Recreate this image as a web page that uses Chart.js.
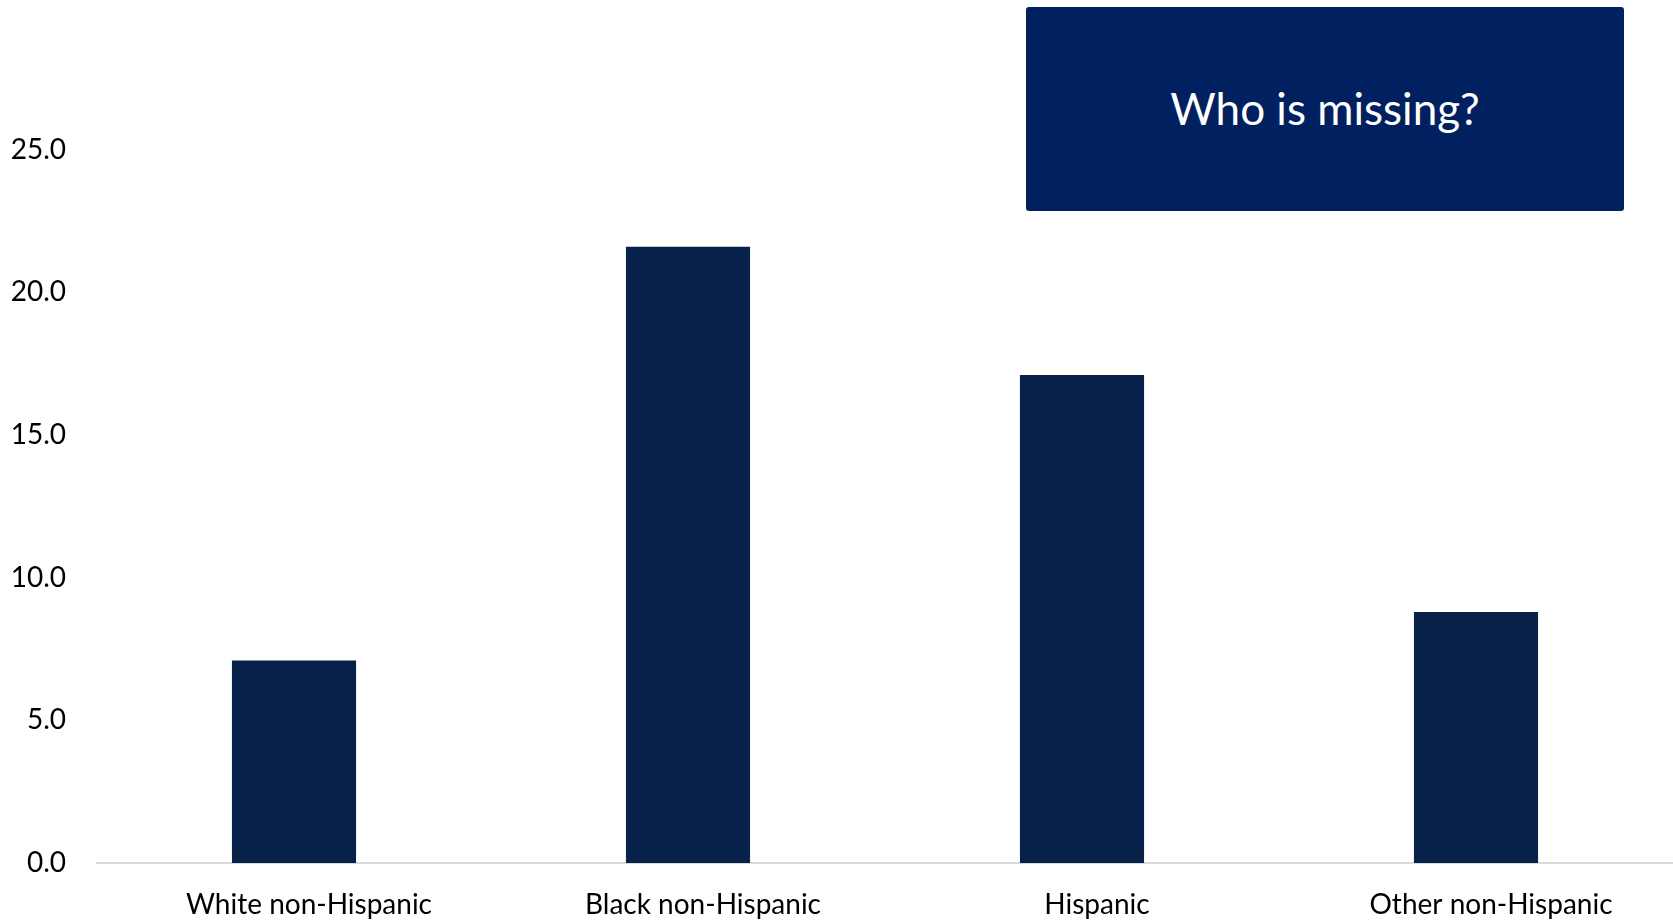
<!DOCTYPE html>
<html>
<head>
<meta charset="utf-8">
<script src="https://cdn.jsdelivr.net/npm/chart.js@4.4.1/dist/chart.umd.min.js"></script>
<style>
  body { margin: 0; background: #fff; }
  #wrap { position: relative; width: 1673px; height: 920px; }
  #box {
    position: absolute; left: 1026px; top: 7px; width: 598px; height: 204px;
    background: #012060; border-radius: 3px;
    color: #fff; font-family: Lato, "Open Sans", sans-serif; font-size: 44px;
    display: flex; align-items: center; justify-content: center;
    padding-bottom: 2px; box-sizing: border-box;
  }
</style>
</head>
<body>
<div id="wrap">
  <canvas id="chart" width="1673" height="920"></canvas>
  <div id="box">Who is missing?</div>
</div>
<script>
// Data
const groups = ['White non-Hispanic', 'Black non-Hispanic', 'Hispanic', 'Other non-Hispanic'];
const rates = [7.1, 21.6, 17.1, 8.8];
const yTicks = [0, 5, 10, 15, 20, 25];

document.addEventListener("DOMContentLoaded", function() {
    const ctx = document.getElementById('chart').getContext('2d');
    new Chart(ctx, {
        type: 'bar',
        data: {
            labels: groups,
            datasets: [{
                data: rates,
                backgroundColor: '#08214A',
                borderWidth: 0,
                categoryPercentage: 1,
                barPercentage: 0.315
            }]
        },
        options: {
            responsive: false,
            animation: false,
            layout: { padding: 0 },
            plugins: { legend: { display: false }, tooltip: { enabled: false } },
            scales: {
                x: {
                    grid: { display: false, drawTicks: false },
                    border: { color: '#d9d9d9', width: 2 },
                    ticks: {
                        color: '#000',
                        font: { family: 'Lato', size: 28 },
                        padding: 25,
                        labelOffset: 15,
                        maxRotation: 0
                    },
                    afterFit: function(scale) { scale.height = 57; }
                },
                y: {
                    min: 0,
                    max: 30,
                    grid: { display: false, drawTicks: false },
                    border: { display: false },
                    afterBuildTicks: function(scale) {
                        scale.ticks = yTicks.map(v => ({ value: v }));
                    },
                    ticks: {
                        color: '#000',
                        font: { family: 'Lato', size: 28 },
                        padding: 31,
                        callback: v => v.toFixed(1)
                    },
                    afterFit: function(scale) { scale.width = 97; }
                }
            }
        },
        plugins: [{
            // keep the plot area at the top edge like the original
            id: 'fullHeight',
            beforeLayout: function(chart) {},
            afterLayout: function(chart) {
                const y = chart.scales.y;
                if (y.top !== 7) {
                    y.top = 7;
                    y.height = y.bottom - y.top;
                    chart.chartArea.top = 7;
                    y.configure();
                }
            }
        }]
    });
});
</script>
</body>
</html>
